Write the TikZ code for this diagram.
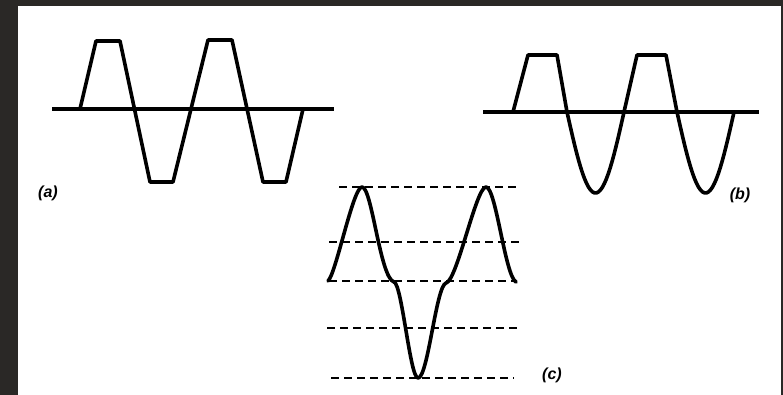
\documentclass[tikz,border=0pt]{standalone}
\usepackage{fontspec}
\newfontfamily\labelfont{Liberation Sans}
\usepackage{tikz}
\definecolor{fond}{RGB}{42,40,38}
\tikzset{
  wave/.style={line width=3.6pt, line join=round, line cap=round},
  axe/.style={line width=3.2pt},
  niveau/.style={line width=2.8pt, dash pattern=on 8pt off 5pt},
  lettre/.style={font=\fontsize{16}{18}\selectfont\labelfont\bfseries\itshape}
}
\begin{document}
\begin{tikzpicture}[x=1pt, y=-1pt]
%
\useasboundingbox (0,0) rectangle (783,395);
\fill[fond] (0,0) rectangle (783,395);
\fill[white] (18,6) rectangle (781,395);
% Courbe (a)
\draw[axe] (52,109) -- (334,109);
\draw[wave] (80,109) -- (96,41) -- (120,41) -- (150,182) -- (173,182)
  -- (208,40) -- (232,40) -- (263,182) -- (286,182) -- (303,109);
\node[lettre] (la) at (48,193) {(a)};
% Courbe (b)
\draw[axe] (483,112) -- (759,112);
\draw[wave] (513,112) -- (528,55) -- (557,55) -- (567,112)
  -- plot[domain=0:180, samples=30] ({567+57*\x/180},{112+81*sin(\x)})
  -- (637,55) -- (666,55) -- (677,112)
  -- plot[domain=0:180, samples=30] ({677+57*\x/180},{112+81*sin(\x)});
\node[lettre] (lb) at (740,195) {(b)};
% Courbe (c)
\draw[niveau] (339,187) -- (517,187);
\draw[niveau] (329,242) -- (522,242);
\draw[niveau] (329,281) -- (517,281);
\draw[niveau] (327,328) -- (518,328);
\draw[niveau] (331,378) -- (514,378);
\draw[wave] (328,281) .. controls (336,274) and (353,187) .. (362,187)
  .. controls (372,187) and (380,278) .. (394,282)
  .. controls (402,284) and (410,378) .. (418,378)
  .. controls (428,378) and (436,286) .. (446,283)
  .. controls (457,281) and (476,187) .. (486,187)
  .. controls (496,187) and (505,276) .. (516,282);
\node[lettre] (lc) at (552,375) {(c)};
\end{tikzpicture}
\end{document}
